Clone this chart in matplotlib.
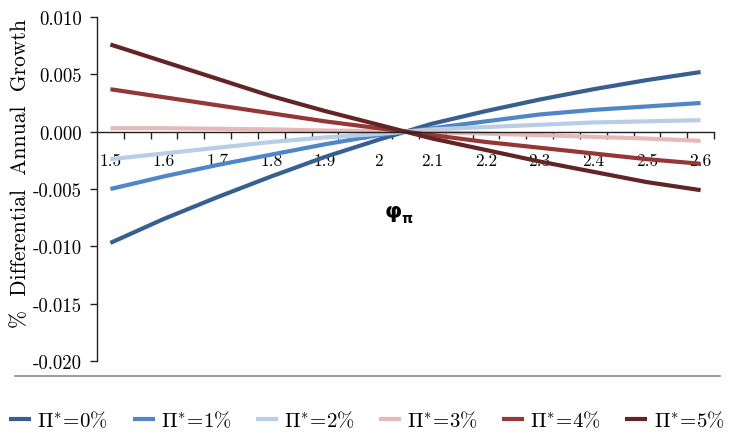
import matplotlib
matplotlib.use("Agg")
import matplotlib.pyplot as plt
from matplotlib.lines import Line2D

# ---- data ----
phi = [1.5, 1.6, 1.7, 1.8, 1.9, 2.0, 2.1, 2.2, 2.3, 2.4, 2.5, 2.6]
pi0 = [-0.0097, -0.0076, -0.0057, -0.0039, -0.0022, -0.0007, 0.0007, 0.0018, 0.0028, 0.0037, 0.0045, 0.0052]
pi1 = [-0.0050, -0.0039, -0.0029, -0.0020, -0.0011, -0.0003, 0.0003, 0.0009, 0.0015, 0.0019, 0.0022, 0.0025]
pi2 = [-0.0024, -0.0019, -0.0014, -0.0009, -0.0005, -0.0002, 0.0002, 0.0004, 0.0006, 0.0008, 0.0009, 0.0010]
pi3 = [0.00030, 0.00030, 0.00025, 0.00020, 0.00010, 0.00005, -0.00005, -0.00017, -0.00030, -0.00045, -0.00060, -0.00080]
pi4 = [0.0037, 0.0030, 0.0023, 0.0016, 0.0009, 0.0003, -0.0003, -0.0009, -0.0014, -0.0019, -0.0024, -0.0028]
pi5 = [0.0076, 0.0061, 0.0046, 0.0031, 0.0018, 0.0006, -0.0006, -0.0016, -0.0026, -0.0035, -0.0044, -0.0051]
series = [pi0, pi1, pi2, pi3, pi4, pi5]
labels = [r'$\Pi^{*}\!=\!0\%$', r'$\Pi^{*}\!=\!1\%$', r'$\Pi^{*}\!=\!2\%$',
          r'$\Pi^{*}\!=\!3\%$', r'$\Pi^{*}\!=\!4\%$', r'$\Pi^{*}\!=\!5\%$']
colors = ['#375f8f', '#4f86c6', '#b9cde5', '#e6b9b8', '#953735', '#632523']
xtick_labels = ['1.5', '1.6', '1.7', '1.8', '1.9', '2', '2.1', '2.2', '2.3', '2.4', '2.5', '2.6']
ytick_vals = [0.010, 0.005, 0.000, -0.005, -0.010, -0.015, -0.020]
ytick_labels = ['0.010', '0.005', '0.000', '-0.005', '-0.010', '-0.015', '-0.020']

plt.rcParams['mathtext.fontset'] = 'cm'
plt.rcParams['font.family'] = ['cmr10', 'DejaVu Serif']
plt.rcParams['axes.unicode_minus'] = False

W, H = 734, 435
fig = plt.figure(figsize=(W / 100, H / 100), dpi=100)
ax = fig.add_axes([97 / W, 1 - 362 / H, (714 - 97) / W, (362 - 18) / H])

for s, c, l in zip(series, colors, labels):
    ax.plot(phi, s, color=c, lw=3.0, label=l, solid_capstyle='butt',
            solid_joinstyle='round')

ax.set_xlim(1.475, 2.625)
ax.set_ylim(-0.020, 0.010)

for sp in ['top', 'right']:
    ax.spines[sp].set_visible(False)
ax.spines['bottom'].set_position(('data', 0))
ax.spines['left'].set_color('#222222')
ax.spines['bottom'].set_color('#222222')
ax.spines['left'].set_linewidth(1.0)
ax.spines['bottom'].set_linewidth(1.0)

ax.set_yticks(ytick_vals)
ax.set_yticklabels(ytick_labels, fontsize=13.5)
ax.tick_params(axis='y', direction='out', length=5, width=1, pad=6, color='#222222')

ax.set_xticks(phi)
ax.set_xticklabels(xtick_labels, fontsize=12.5)
ax.set_xticks([1.525 + 0.05 * i for i in range(23)], minor=True)
ax.tick_params(axis='x', which='major', length=0, pad=15)
ax.tick_params(axis='x', which='minor', direction='out', length=5, width=1, color='#222222')

fig.text(393 / W, 1 - 212 / H, 'φ', fontsize=16, fontweight='bold',
         family='DejaVu Sans', ha='center', va='center')
fig.text(407 / W, 1 - 219 / H, 'π', fontsize=10, fontweight='bold',
         family='DejaVu Sans', ha='center', va='center')

fig.text(20 / W, 1 - 174 / H, '%  Differential  Annual  Growth', rotation=90,
         fontsize=15.5, ha='center', va='center')

fig.add_artist(Line2D([15 / W, 720 / W], [1 - 377 / H, 1 - 377 / H],
                      color='#8c8c8c', lw=1.2))

fig.legend(loc='center', bbox_to_anchor=(0.5, 1 - 421 / H), ncol=6, frameon=False,
           fontsize=15, handlelength=1.06, handletextpad=0.29, columnspacing=1.15,
           borderaxespad=0, borderpad=0)

fig.savefig('out.png', dpi=100)
